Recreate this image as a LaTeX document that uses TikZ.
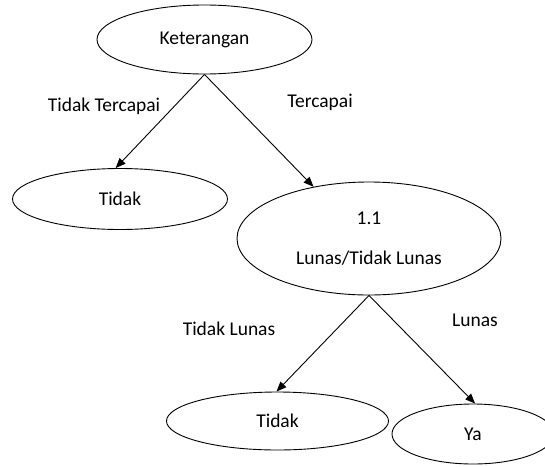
\documentclass[tikz,border=0pt]{standalone}
\usepackage{fontspec}
\setmainfont{Carlito}
\usetikzlibrary{shapes.geometric,arrows.meta}
\begin{document}
\begin{tikzpicture}[x=1pt,y=-1pt,
  every node/.style={font=\fontsize{19.5}{23}\selectfont},
  oval/.style={draw, ellipse, inner sep=0pt, line width=0.9pt},
  arr/.style={draw, line width=0.9pt, -{Triangle[length=10pt,width=8pt]}},
  lbl/.style={inner sep=0pt}]
\useasboundingbox (0,0) rectangle (545,466);
\clip (0,0) rectangle (545,466);
\node[oval, minimum width=215, minimum height=69] (k) at (204.5,39.5) {Keterangan};
\node[oval, minimum width=215, minimum height=61] (t1) at (120,199) {Tidak};
\node[oval, minimum width=264, minimum height=113, align=center] (c) at (369,238.5) {1.1\\[17pt]Lunas/Tidak Lunas};
\node[oval, minimum width=222, minimum height=58] (t2) at (277.5,421) {Tidak};
\node[oval, minimum width=162, minimum height=60] (y) at (473,434) {Ya};
\draw[arr] (k.south) -- (t1.98);
\draw[arr] (k.south) -- (c.137);
\draw[arr] (c.south) -- (t2.92);
\draw[arr] (c.south) -- (y.86);
\node[lbl] (l1) at (104,106) {Tidak Tercapai};
\node[lbl] (l2) at (320,102) {Tercapai};
\node[lbl] (l3) at (229,329) {Tidak Lunas};
\node[lbl] (l4) at (475,320) {Lunas};
\end{tikzpicture}
\end{document}
